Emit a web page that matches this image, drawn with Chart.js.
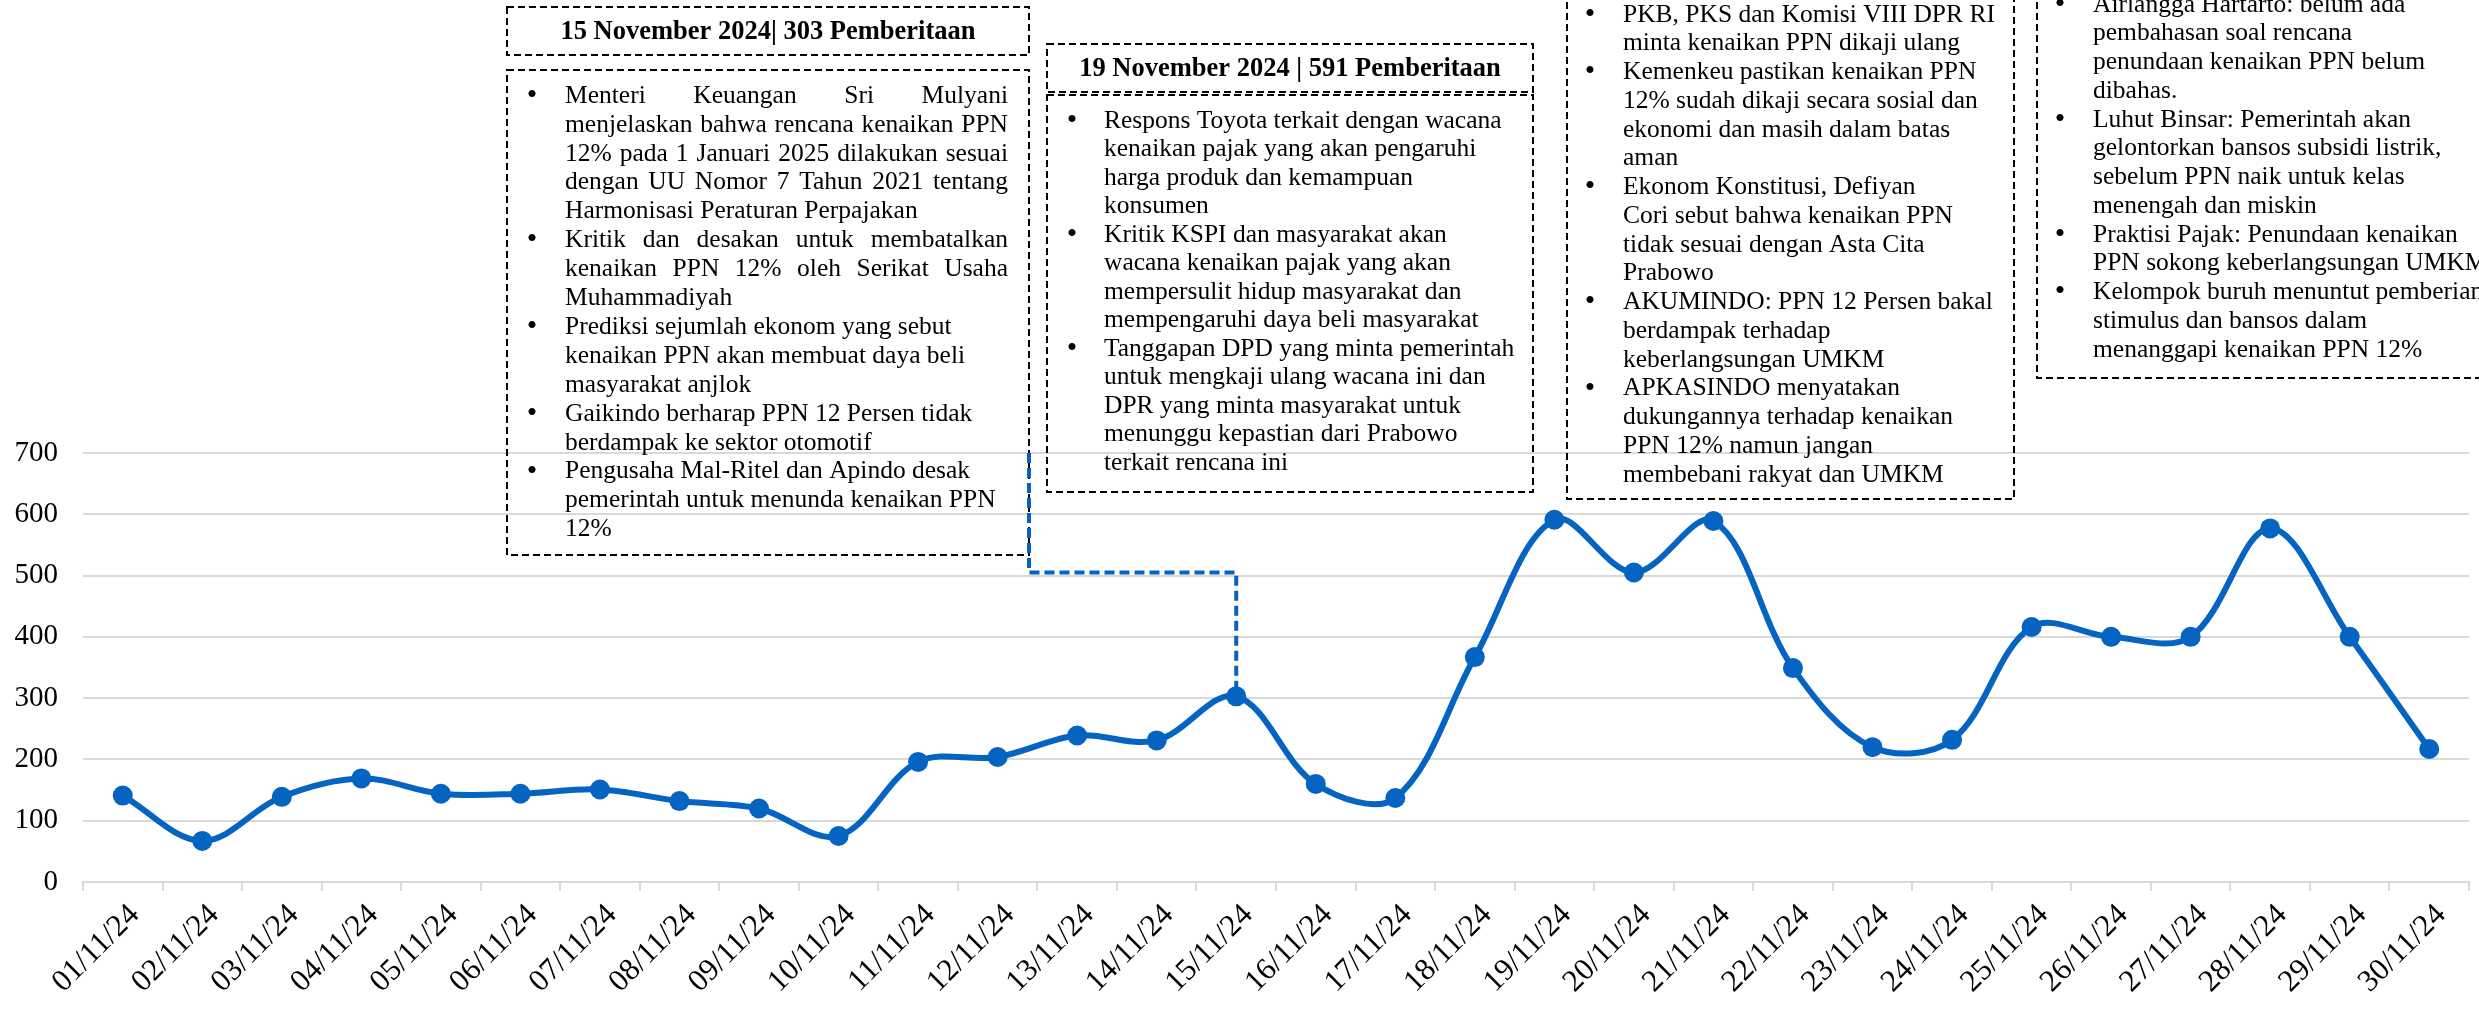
<!DOCTYPE html>
<html>
<head>
<meta charset="utf-8">
<title>Pemberitaan PPN 12% - November 2024</title>
<script src="https://cdn.jsdelivr.net/npm/chart.js@4.4.1/dist/chart.umd.min.js"></script>
<style>
    html, body { margin: 0; padding: 0; background: #fff; }
    #wrap { width: 2479px; height: 1009px; }
</style>
</head>
<body>
<div id="wrap"><canvas id="chart" width="2479" height="1009"></canvas></div>
<script>
// Tanggal (kategori) dan jumlah pemberitaan per hari
const dates = [
    '01/11/24', '02/11/24', '03/11/24', '04/11/24', '05/11/24', '06/11/24',
    '07/11/24', '08/11/24', '09/11/24', '10/11/24', '11/11/24', '12/11/24',
    '13/11/24', '14/11/24', '15/11/24', '16/11/24', '17/11/24', '18/11/24',
    '19/11/24', '20/11/24', '21/11/24', '22/11/24', '23/11/24', '24/11/24',
    '25/11/24', '26/11/24', '27/11/24', '28/11/24', '29/11/24', '30/11/24'
];
const newsCount = [
    141, 67, 139, 169, 144, 144, 151, 132, 120, 75,
    196, 204, 239, 231, 303, 160, 137, 367, 591, 505,
    589, 349, 220, 232, 416, 400, 400, 577, 400, 217
];
const yMax = 700;
const yStep = 100;

// Titik yang dihubungkan ke kotak 15 November
const linkIndex = 14;
const linkElbowValue = 505;

// Isi kotak catatan
const title15 = '15 November 2024| 303 Pemberitaan';
const notes15 = [
    ['Menteri Keuangan Sri Mulyani',
     'menjelaskan bahwa rencana kenaikan PPN',
     '12% pada 1 Januari 2025 dilakukan sesuai',
     'dengan UU Nomor 7 Tahun 2021 tentang',
     'Harmonisasi Peraturan Perpajakan'],
    ['Kritik dan desakan untuk membatalkan',
     'kenaikan PPN 12% oleh Serikat Usaha',
     'Muhammadiyah'],
    ['Prediksi sejumlah ekonom yang sebut',
     'kenaikan PPN akan membuat daya beli',
     'masyarakat anjlok'],
    ['Gaikindo berharap PPN 12 Persen tidak',
     'berdampak ke sektor otomotif'],
    ['Pengusaha Mal-Ritel dan Apindo desak',
     'pemerintah untuk menunda kenaikan PPN',
     '12%']
];
const title19 = '19 November 2024 | 591 Pemberitaan';
const notes19 = [
    ['Respons Toyota terkait dengan wacana',
     'kenaikan pajak yang akan pengaruhi',
     'harga produk dan kemampuan',
     'konsumen'],
    ['Kritik KSPI dan masyarakat akan',
     'wacana kenaikan pajak yang akan',
     'mempersulit hidup masyarakat dan',
     'mempengaruhi daya beli masyarakat'],
    ['Tanggapan DPD yang minta pemerintah',
     'untuk mengkaji ulang wacana ini dan',
     'DPR yang minta masyarakat untuk',
     'menunggu kepastian dari Prabowo',
     'terkait rencana ini']
];
const notes21 = [
    ['PKB, PKS dan Komisi VIII DPR RI',
     'minta kenaikan PPN dikaji ulang'],
    ['Kemenkeu pastikan kenaikan PPN',
     '12% sudah dikaji secara sosial dan',
     'ekonomi dan masih dalam batas',
     'aman'],
    ['Ekonom Konstitusi, Defiyan',
     'Cori sebut bahwa kenaikan PPN',
     'tidak sesuai dengan Asta Cita',
     'Prabowo'],
    ['AKUMINDO: PPN 12 Persen bakal',
     'berdampak terhadap',
     'keberlangsungan UMKM'],
    ['APKASINDO menyatakan',
     'dukungannya terhadap kenaikan',
     'PPN 12% namun jangan',
     'membebani rakyat dan UMKM']
];
const notes28 = [
    ['Airlangga Hartarto: belum ada',
     'pembahasan soal rencana',
     'penundaan kenaikan PPN belum',
     'dibahas.'],
    ['Luhut Binsar: Pemerintah akan',
     'gelontorkan bansos subsidi listrik,',
     'sebelum PPN naik untuk kelas',
     'menengah dan miskin'],
    ['Praktisi Pajak: Penundaan kenaikan',
     'PPN sokong keberlangsungan UMKM'],
    ['Kelompok buruh menuntut pemberian',
     'stimulus dan bansos dalam',
     'menanggapi kenaikan PPN 12%']
];

const BLUE = '#0563c1';
const FONT = '"Liberation Serif", "Times New Roman", serif';

// Letak kotak (piksel)
const boxes = [
    { x: 507, w: 522, headTop: 7, headBottom: 55, title: title15,
      top: 70, bottom: 555, items: notes15, justify: [true, true],
      bulletX: 532, textX: 565, textRight: 1008, firstY: 96, lineH: 28.9 },
    { x: 1047, w: 486, headTop: 44, headBottom: 92, title: title19,
      top: 95, bottom: 492, items: notes19, justify: [],
      bulletX: 1072, textX: 1104, firstY: 121, lineH: 28.5 },
    { x: 1567, w: 447, top: -20, bottom: 499, items: notes21, justify: [],
      bulletX: 1590, textX: 1623, firstY: 15, lineH: 28.75 },
    { x: 2037, w: 480, top: -20, bottom: 378, items: notes28, justify: [],
      bulletX: 2060, textX: 2093, firstY: 5, lineH: 28.75 }
];

function dashedRect(ctx, x, y, w, h) {
    ctx.save();
    ctx.strokeStyle = '#000';
    ctx.lineWidth = 2;
    ctx.setLineDash([7, 4]);
    ctx.strokeRect(x, y, w, h);
    ctx.restore();
}

function justifiedLine(ctx, text, left, right, y) {
    const words = text.split(' ');
    const total = words.reduce((s, w) => s + ctx.measureText(w).width, 0);
    const gap = words.length > 1 ? (right - left - total) / (words.length - 1) : 0;
    let x = left;
    words.forEach(w => {
        ctx.fillText(w, x, y);
        x += ctx.measureText(w).width + gap;
    });
}

function drawBox(ctx, b) {
    if (b.title) {
        dashedRect(ctx, b.x, b.headTop, b.w, b.headBottom - b.headTop);
        ctx.font = 'bold 26.5px ' + FONT;
        ctx.fillStyle = '#000';
        ctx.textAlign = 'center';
        ctx.textBaseline = 'middle';
        ctx.fillText(b.title, b.x + b.w / 2, (b.headTop + b.headBottom) / 2 + 1);
    }
    dashedRect(ctx, b.x, b.top, b.w, b.bottom - b.top);

    ctx.fillStyle = '#000';
    ctx.textBaseline = 'middle';
    let y = b.firstY;
    b.items.forEach((lines, k) => {
        lines.forEach((line, i) => {
            if (i === 0) {
                ctx.font = '30px ' + FONT;
                ctx.textAlign = 'center';
                ctx.fillText('\u2022', b.bulletX, y);
            }
            ctx.font = '25.5px ' + FONT;
            ctx.textAlign = 'left';
            if (b.justify[k] && i < lines.length - 1) {
                justifiedLine(ctx, line, b.textX, b.textRight, y);
            } else {
                ctx.fillText(line, b.textX, y);
            }
            y += b.lineH;
        });
    });
}

const notesPlugin = {
    id: 'notes',
    beforeDatasetsDraw(chart) {
        const ctx = chart.ctx;
        ctx.save();
        boxes.forEach(b => drawBox(ctx, b));

        // garis penghubung kotak 15 November ke titik data
        const xs = chart.scales.x;
        const ys = chart.scales.y;
        const edgeX = boxes[0].x + boxes[0].w;
        const px = xs.getPixelForValue(linkIndex);
        const py = ys.getPixelForValue(newsCount[linkIndex]);
        const yTop = ys.getPixelForValue(yMax);
        const yElbow = ys.getPixelForValue(linkElbowValue);
        ctx.strokeStyle = BLUE;
        ctx.lineWidth = 4;
        ctx.setLineDash([10, 5]);
        ctx.beginPath();
        ctx.moveTo(edgeX, yTop);
        ctx.lineTo(edgeX, yElbow);
        ctx.lineTo(px, yElbow);
        ctx.lineTo(px, py);
        ctx.stroke();
        ctx.restore();
    }
};

new Chart(document.getElementById('chart'), {
    type: 'line',
    data: {
        labels: dates,
        datasets: [{
            data: newsCount,
            borderColor: BLUE,
            backgroundColor: BLUE,
            borderWidth: 6,
            pointRadius: 10,
            pointBackgroundColor: BLUE,
            pointBorderWidth: 0,
            tension: 0.35,
            fill: false,
            clip: false
        }]
    },
    options: {
        responsive: false,
        animation: false,
        layout: {
            padding: { top: 453, right: 5, left: 0, bottom: 0 }
        },
        plugins: {
            legend: { display: false },
            tooltip: { enabled: false }
        },
        scales: {
            x: {
                offset: true,
                grid: {
                    offset: true,
                    drawOnChartArea: false,
                    drawTicks: true,
                    tickLength: 9,
                    color: '#d9d9d9',
                    lineWidth: 2
                },
                border: { display: true, color: '#d9d9d9', width: 2 },
                ticks: {
                    autoSkip: false,
                    maxRotation: 45,
                    minRotation: 45,
                    padding: 6,
                    labelOffset: 12,
                    color: '#000',
                    font: { family: FONT, size: 31 }
                },
                afterFit(scale) { scale.height = 127; }
            },
            y: {
                min: 0,
                max: yMax,
                ticks: {
                    stepSize: yStep,
                    padding: 25,
                    color: '#000',
                    font: { family: FONT, size: 29 }
                },
                grid: { drawTicks: false, color: '#d9d9d9', lineWidth: 2 },
                border: { display: false },
                afterFit(scale) { scale.width = 83; }
            }
        }
    },
    plugins: [notesPlugin]
});
</script>
</body>
</html>
